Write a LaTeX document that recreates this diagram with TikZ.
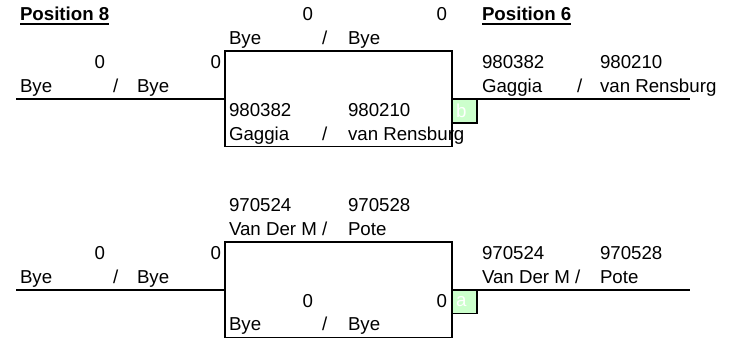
\documentclass[tikz,border=0pt]{standalone}
\usepackage{fontspec}
\setmainfont{Liberation Sans}
\usepackage{tikz}
\usetikzlibrary{positioning}
\definecolor{seedgreen}{RGB}{204,255,204}
\newcommand{\cellfont}{\fontsize{18.7}{22}\selectfont}
\newcommand{\headline}[1]{\setbox0\hbox{#1}\rlap{\vrule height -2.4pt depth 4.2pt width \wd0}\box0}

\begin{document}
\begin{tikzpicture}[x=1pt,y=-1pt,every node/.style={inner sep=0pt,outer sep=0pt,align=left,font=\cellfont},
    lt/.style={anchor=base west}, rt/.style={anchor=base east},
    head/.style={anchor=base west,font=\cellfont\bfseries},
    matchbox/.style={draw,line width=1.6pt,minimum width=227pt,minimum height=95.4pt,anchor=north west},
    seed/.style={draw,line width=1.6pt,fill=seedgreen,text=white,anchor=north west,minimum height=23.8pt,text width=17pt,inner xsep=4pt},
    wire/.style={line width=1.6pt}]
    \useasboundingbox (0,0) rectangle (738,342);

    % top match
    \node [head] (posleft) at (20,20.8) {\headline{Position 8}};
    \node [head] (posright) at (482,20.8) {\headline{Position 6}};
    \node [rt] (topnumA1) at (313,20.8) {0}; \node [rt] (topnumA2) at (447,20.8) {0};
    \node [lt] (topnameA1) at (229,44.7) {Bye}; \node [lt] (topslashA) at (322,44.7) {/}; \node [lt] (topnameA2) at (348,44.7) {Bye};
    \node [rt] (leftnumA1) at (105,68.5) {0}; \node [rt] (leftnumA2) at (221,68.5) {0};
    \node [lt] (leftnameA1) at (20,92.4) {Bye}; \node [lt] (leftslashA) at (113,92.4) {/}; \node [lt] (leftnameA2) at (137,92.4) {Bye};
    \node [lt] (winnumA1) at (482,68.5) {980382}; \node [lt] (winnumA2) at (600,68.5) {980210};
    \node [lt] (winnameA1) at (482,92.4) {Gaggia}; \node [lt] (winslashA) at (577,92.4) {/}; \node [lt] (winnameA2) at (600,92.4) {van Rensburg};
    \node [lt] (botnumA1) at (229,116.2) {980382}; \node [lt] (botnumA2) at (348,116.2) {980210};
    \node [lt] (botnameA1) at (229,140.1) {Gaggia}; \node [lt] (botslashA) at (322,140.1) {/}; \node [lt] (botnameA2) at (348,140.1) {van Rensburg};

    \node [matchbox] (matchA) at (225,51.2) {};
    \coordinate (inA) at (16,98.9);
    \coordinate (outA) at (690,98.9);
    \draw [wire] (inA) -- (matchA.west);
    \draw [wire] (matchA.east) -- (outA);
    \node [seed] (seedA) at (matchA.east) {b};

    % bottom match
    \node [lt] (topnumB1) at (229,211.6) {970524}; \node [lt] (topnumB2) at (348,211.6) {970528};
    \node [lt] (topnameB1) at (229,235.5) {Van Der M}; \node [lt] (topslashB) at (322,235.5) {/}; \node [lt] (topnameB2) at (348,235.5) {Pote};
    \node [rt] (leftnumB1) at (105,259.3) {0}; \node [rt] (leftnumB2) at (221,259.3) {0};
    \node [lt] (leftnameB1) at (20,283.2) {Bye}; \node [lt] (leftslashB) at (113,283.2) {/}; \node [lt] (leftnameB2) at (137,283.2) {Bye};
    \node [lt] (winnumB1) at (482,259.3) {970524}; \node [lt] (winnumB2) at (600,259.3) {970528};
    \node [lt] (winnameB1) at (482,283.2) {Van Der M}; \node [lt] (winslashB) at (575,283.2) {/}; \node [lt] (winnameB2) at (600,283.2) {Pote};
    \node [rt] (botnumB1) at (313,307) {0}; \node [rt] (botnumB2) at (447,307) {0};
    \node [lt] (botnameB1) at (229,330.9) {Bye}; \node [lt] (botslashB) at (322,330.9) {/}; \node [lt] (botnameB2) at (348,330.9) {Bye};

    \node [matchbox] (matchB) at (225,242) {};
    \coordinate (inB) at (16,289.7);
    \coordinate (outB) at (690,289.7);
    \draw [wire] (inB) -- (matchB.west);
    \draw [wire] (matchB.east) -- (outB);
    \node [seed] (seedB) at (matchB.east) {a};
\end{tikzpicture}
\end{document}
